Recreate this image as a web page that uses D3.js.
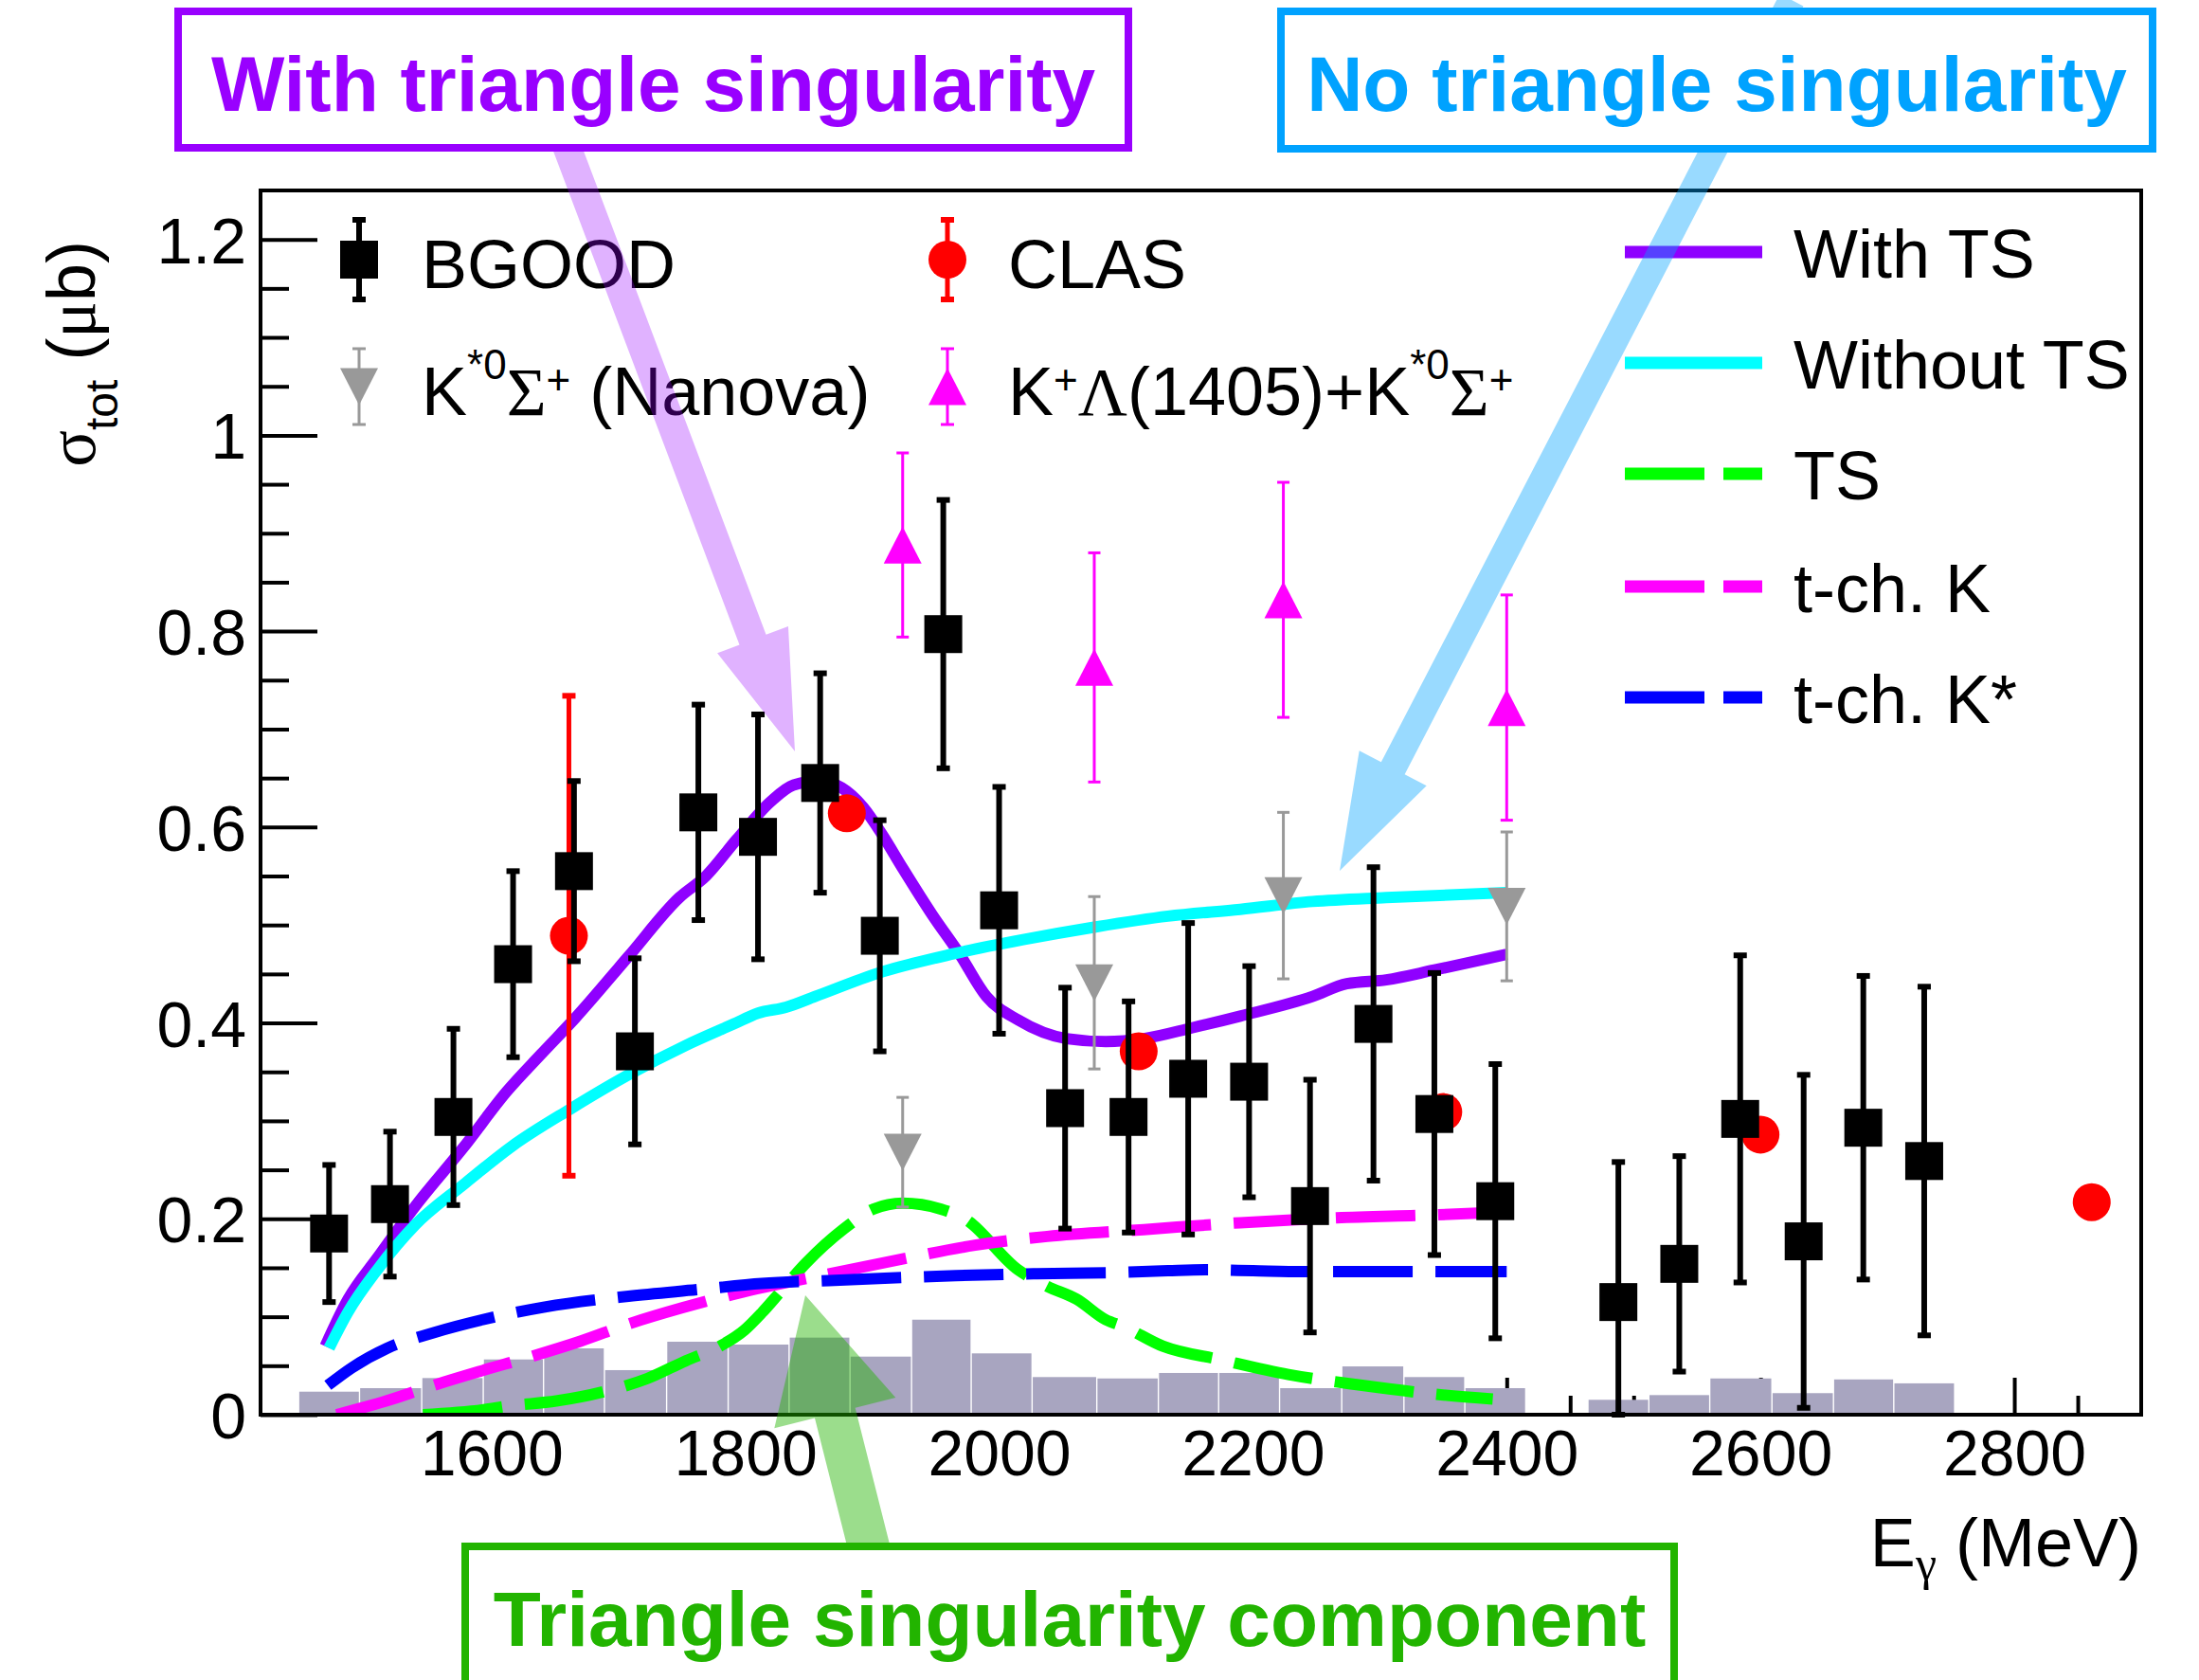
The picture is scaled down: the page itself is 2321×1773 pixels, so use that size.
<!DOCTYPE html>
<meta charset="utf-8">
<style>
body { margin: 0; background: #fff; }
svg { display: block; font-family: "Liberation Sans", Arial, Helvetica, sans-serif; }
.greek { font-family: "Liberation Serif", "DejaVu Serif", serif; }
</style>
<body>
<script src="https://cdn.jsdelivr.net/npm/d3@7"></script>
<script>

// BGOOD points: photon energy (MeV), cross section (ub), stat error, systematic (grey bars)
var bgoodE   = [1472, 1520, 1570, 1617, 1665, 1713, 1763, 1810, 1859, 1906, 1956, 2000, 2052, 2102, 2149, 2197, 2245, 2295, 2343, 2391,
                2488, 2536, 2584, 2634, 2681, 2729];
var bgoodV   = [0.185, 0.215, 0.304, 0.460, 0.555, 0.371, 0.615, 0.590, 0.645, 0.489, 0.797, 0.515, 0.313, 0.304, 0.343, 0.340, 0.213, 0.399, 0.307, 0.218,
                0.115, 0.154, 0.302, 0.177, 0.293, 0.259];
var bgoodErr = [0.070, 0.074, 0.090, 0.095, 0.092, 0.095, 0.110, 0.125, 0.112, 0.118, 0.137, 0.126, 0.123, 0.118, 0.159, 0.118, 0.129, 0.160, 0.144, 0.140,
                0.143, 0.110, 0.167, 0.170, 0.155, 0.178];
var bgoodSys = [0.0235, 0.0271, 0.0374, 0.0564, 0.0677, 0.0455, 0.0745, 0.0716, 0.0787, 0.0593, 0.097, 0.0626, 0.0384, 0.037, 0.0426, 0.0426, 0.0271, 0.0493, 0.0384, 0.0271,
                0.0152, 0.020, 0.037, 0.022, 0.036, 0.032];

// CLAS
var clasE   = [1661, 1880, 2110, 2350, 2600, 2861];
var clasV   = [0.489, 0.614, 0.371, 0.309, 0.286, 0.217];
var clasErr = [0.245, 0, 0, 0, 0, 0];

// K*0 Sigma+ (Nanova)
var nanovaE   = [1924, 2075, 2224, 2400];
var nanovaV   = [0.268, 0.441, 0.530, 0.519];
var nanovaErr = [0.056, 0.088, 0.085, 0.076];

// K+ Lambda(1405) + K*0 Sigma+
var sumE   = [1924, 2075, 2224, 2400];
var sumV   = [0.888, 0.763, 0.832, 0.722];
var sumErr = [0.094, 0.117, 0.120, 0.115];

// model curves [E, sigma]
var withTS = [[1469,0.070],[1487,0.118],[1510,0.160],[1540,0.213],[1578,0.273],[1612,0.330],[1639,0.368],[1666,0.405],[1708,0.468],
  [1748,0.528],[1769,0.550],[1793,0.587],[1820,0.626],[1838,0.643],[1858,0.647],[1876,0.640],[1893,0.620],[1908,0.592],[1924,0.558],
  [1947,0.511],[1969,0.470],[1990,0.427],[2015,0.403],[2053,0.384],[2084,0.381],[2114,0.384],[2152,0.395],[2190,0.407],[2247,0.427],
  [2274,0.440],[2305,0.444],[2343,0.454],[2400,0.470]];
var withoutTS = [[1472,0.068],[1487,0.105],[1510,0.148],[1540,0.194],[1578,0.235],[1616,0.274],[1662,0.312],[1708,0.347],[1753,0.377],
  [1791,0.399],[1810,0.410],[1832,0.416],[1855,0.427],[1905,0.451],[1962,0.470],[2019,0.485],[2076,0.498],[2133,0.509],[2190,0.516],
  [2247,0.524],[2305,0.528],[2400,0.533]];
var tsOnly = [[1546,0.000],[1593,0.005],[1614,0.009],[1651,0.014],[1690,0.024],[1723,0.037],[1753,0.055],[1780,0.070],[1799,0.086],
  [1813,0.104],[1828,0.126],[1848,0.155],[1878,0.190],[1901,0.210],[1924,0.216],[1954,0.210],[1973,0.200],[2015,0.148],[2038,0.131],
  [2061,0.118],[2084,0.097],[2098,0.090],[2129,0.070],[2175,0.056],[2228,0.041],[2286,0.030],[2343,0.021],[2389,0.016]];
var tchK = [[1478,0.000],[1517,0.014],[1552,0.029],[1590,0.044],[1633,0.060],[1670,0.075],[1709,0.093],[1750,0.109],[1794,0.124],
  [1867,0.144],[1924,0.159],[1981,0.173],[2038,0.182],[2114,0.189],[2190,0.196],[2266,0.201],[2343,0.204],[2400,0.207]];
var tchKs = [[1471,0.030],[1490,0.048],[1518,0.068],[1555,0.084],[1593,0.097],[1642,0.110],[1708,0.121],[1765,0.128],[1813,0.134],
  [1866,0.137],[1924,0.140],[1966,0.142],[2030,0.144],[2090,0.145],[2133,0.147],[2165,0.148],[2200,0.147],[2240,0.146],[2400,0.146]];

var xTicks = [1600, 1800, 2000, 2200, 2400, 2600, 2800];
var yTicks = [0, 0.2, 0.4, 0.6, 0.8, 1, 1.2];
var yTickLabels = ["0", "0.2", "0.4", "0.6", "0.8", "1", "1.2"];

var curves = [
  {name: "With TS",    data: withTS,    color: "#8f00ff", dash: null},
  {name: "Without TS", data: withoutTS, color: "#00ffff", dash: null},
  {name: "TS",         data: tsOnly,    color: "#00ff00", dash: "84,24"},
  {name: "t-ch. K",    data: tchK,      color: "#ff00ff", dash: "84,24"},
  {name: "t-ch. K*",   data: tchKs,     color: "#0000ff", dash: "84,24"}
];

var W = 2321, H = 1773;
var x = d3.scaleLinear().domain([1418, 2900]).range([275, 2260]);
var y = d3.scaleLinear().domain([0, 1.25]).range([1493, 201]);

var svg = d3.select("body").append("svg").attr("width", W).attr("height", H);
svg.append("rect").attr("width", W).attr("height", H).attr("fill", "#fff");

svg.append("clipPath").attr("id", "frame").append("rect")
    .attr("x", 275).attr("y", 201).attr("width", 1985).attr("height", 1292);

// ---- axes ticks (drawn under the grey histogram) ----
var yMinor = d3.range(0, 1.21, 0.05).filter(function(d) { return Math.abs(d * 5 - Math.round(d * 5)) > 1e-6; });
var xMinor = d3.range(1450, 2900, 50).filter(function(d) { return d % 200 != 0; });

function styleAxis(g) {
  g.select(".domain").remove();
  g.selectAll("line").attr("stroke", "#000").attr("stroke-width", 4);
  g.attr("font-family", null).attr("font-size", null);
  g.selectAll("text").attr("font-size", 68).attr("fill", "#000");
}

svg.append("g").attr("transform", "translate(275,0)")
    .call(d3.axisLeft(y).tickValues(yTicks).tickSize(-60).tickPadding(15)
      .tickFormat(function(d, i) { return yTickLabels[i]; }))
    .call(styleAxis)
    .selectAll("text").attr("dy", "0.36em");
svg.append("g").attr("transform", "translate(275,0)")
    .call(d3.axisLeft(y).tickValues(yMinor).tickSize(-30).tickFormat(""))
    .call(styleAxis);

svg.append("g").attr("transform", "translate(0,1493)")
    .call(d3.axisBottom(x).tickValues(xTicks).tickSize(-39).tickPadding(16).tickFormat(d3.format("d")))
    .call(styleAxis);
svg.append("g").attr("transform", "translate(0,1493)")
    .call(d3.axisBottom(x).tickValues(xMinor).tickSize(-20).tickFormat(""))
    .call(styleAxis);

// ---- data ----
var bgood = bgoodE.map(function(e, i) { return {e: e, v: bgoodV[i], err: bgoodErr[i], sys: bgoodSys[i]}; });
var clas = clasE.map(function(e, i) { return {e: e, v: clasV[i], err: clasErr[i]}; });
var nanova = nanovaE.map(function(e, i) { return {e: e, v: nanovaV[i], err: nanovaErr[i]}; });
var ksum = sumE.map(function(e, i) { return {e: e, v: sumV[i], err: sumErr[i]}; });

// systematic histogram: bin edges halfway between neighbouring points
bgood.forEach(function(d, i) {
  var prev = bgood[i - 1], next = bgood[i + 1];
  d.lo = (prev && d.e - prev.e < 70) ? (prev.e + d.e) / 2 : d.e - 24;
  d.hi = (next && next.e - d.e < 70) ? (next.e + d.e) / 2 : d.e + 24;
});
svg.append("g").selectAll("rect").data(bgood).join("rect")
    .attr("x", function(d) { return x(d.lo) + 0.7; })
    .attr("width", function(d) { return x(d.hi) - x(d.lo) - 1.4; })
    .attr("y", function(d) { return y(d.sys); })
    .attr("height", function(d) { return y(0) - y(d.sys); })
    .attr("fill", "#a8a5c0");

var plot = svg.append("g").attr("clip-path", "url(#frame)");

var line = d3.line().x(function(d) { return x(d[0]); }).y(function(d) { return y(d[1]); })
    .curve(d3.curveMonotoneX);
plot.selectAll("path.curve").data(curves).join("path")
    .attr("class", "curve")
    .attr("d", function(d) { return line(d.data); })
    .attr("fill", "none")
    .attr("stroke", function(d) { return d.color; })
    .attr("stroke-width", 12)
    .attr("stroke-linejoin", "round")
    .attr("stroke-dasharray", function(d) { return d.dash; });

function errorBars(g, data, color, lw, capLen, capW) {
  var yl = function(d) { return y(Math.max(0, d.v - d.err)); };
  var yh = function(d) { return y(Math.min(1.25, d.v + d.err)); };
  var shown = data.filter(function(d) { return d.err > 0; });
  g.selectAll(null).data(shown).join("line")
      .attr("x1", function(d) { return x(d.e); }).attr("x2", function(d) { return x(d.e); })
      .attr("y1", yl).attr("y2", yh)
      .attr("stroke", color).attr("stroke-width", lw);
  [yl, yh].forEach(function(f) {
    g.selectAll(null).data(shown).join("line")
        .attr("x1", function(d) { return x(d.e) - capLen / 2; })
        .attr("x2", function(d) { return x(d.e) + capLen / 2; })
        .attr("y1", f).attr("y2", f)
        .attr("stroke", color).attr("stroke-width", capW);
  });
}

function triPath(cx, cy, down) {
  var s = down ? 1 : -1;
  return "M" + (cx - 20) + "," + (cy - s * 19.5) + "L" + (cx + 20) + "," + (cy - s * 19.5) +
         "L" + cx + "," + (cy + s * 19.5) + "Z";
}

var pts = svg.append("g");
errorBars(pts, nanova, "#999999", 3, 13, 3);
pts.selectAll(null).data(nanova).join("path")
    .attr("d", function(d) { return triPath(x(d.e), y(d.v), true); }).attr("fill", "#999999");
errorBars(pts, ksum, "#ff00ff", 3, 13, 3);
pts.selectAll(null).data(ksum).join("path")
    .attr("d", function(d) { return triPath(x(d.e), y(d.v), false); }).attr("fill", "#ff00ff");
errorBars(pts, clas, "#ff0000", 5, 14, 6);
pts.selectAll(null).data(clas).join("circle")
    .attr("cx", function(d) { return x(d.e); }).attr("cy", function(d) { return y(d.v); })
    .attr("r", 20).attr("fill", "#ff0000");
errorBars(pts, bgood, "#000", 6, 14, 6);
pts.selectAll(null).data(bgood).join("rect")
    .attr("x", function(d) { return x(d.e) - 20; }).attr("y", function(d) { return y(d.v) - 20; })
    .attr("width", 40).attr("height", 40).attr("fill", "#000");

// frame
svg.append("rect").attr("x", 275).attr("y", 201).attr("width", 1985).attr("height", 1292)
    .attr("fill", "none").attr("stroke", "#000").attr("stroke-width", 4);

// ---- rich text helper (super/subscripts) ----
function rich(g, tx, ty, parts, size, anchor, transform) {
  var t = g.append("text").attr("x", tx).attr("y", ty).attr("font-size", size).attr("fill", "#000");
  if (anchor) t.attr("text-anchor", anchor);
  if (transform) t.attr("transform", transform);
  var shift = 0;
  parts.forEach(function(p) {
    var s = t.append("tspan").text(p.t);
    var target = p.dy || 0;
    if (target != shift) s.attr("dy", target - shift);
    shift = target;
    if (p.size) s.attr("font-size", p.size);
    if (p.greek) s.attr("class", "greek");
  });
  return t;
}

// ---- legends ----
var leg = svg.append("g");
function legendBar(cx, cy, half, color, lw, capW) {
  leg.append("line").attr("x1", cx).attr("x2", cx).attr("y1", cy - half).attr("y2", cy + half)
      .attr("stroke", color).attr("stroke-width", lw);
  [cy - half, cy + half].forEach(function(yy) {
    leg.append("line").attr("x1", cx - 7).attr("x2", cx + 7).attr("y1", yy).attr("y2", yy)
        .attr("stroke", color).attr("stroke-width", capW);
  });
}
legendBar(379, 274, 42, "#000", 6, 6);
leg.append("rect").attr("x", 359).attr("y", 254).attr("width", 40).attr("height", 40).attr("fill", "#000");
legendBar(1000, 274, 42, "#ff0000", 5, 6);
leg.append("circle").attr("cx", 1000).attr("cy", 274).attr("r", 20).attr("fill", "#ff0000");
legendBar(379, 408, 40, "#999999", 3, 3);
leg.append("path").attr("d", triPath(379, 408, true)).attr("fill", "#999999");
legendBar(1000, 408, 40, "#ff00ff", 3, 3);
leg.append("path").attr("d", triPath(1000, 408, false)).attr("fill", "#ff00ff");

rich(leg, 445, 304, [{t: "BGOOD"}], 72);
rich(leg, 1064, 304, [{t: "CLAS"}], 72);
rich(leg, 445, 438, [{t: "K"}, {t: "*0", dy: -38, size: 44}, {t: "Σ", greek: true},
  {t: "+", dy: -22, size: 44}, {t: " (Nanova)"}], 72);
rich(leg, 1064, 438, [{t: "K"}, {t: "+", dy: -22, size: 44}, {t: "Λ", greek: true}, {t: "(1405)+K"},
  {t: "*0", dy: -38, size: 44}, {t: "Σ", greek: true}, {t: "+", dy: -22, size: 44}], 72);

var legY = [266, 383, 500, 619, 736];
curves.forEach(function(c, i) {
  leg.append("line").attr("x1", 1715).attr("x2", 1860).attr("y1", legY[i]).attr("y2", legY[i])
      .attr("stroke", c.color).attr("stroke-width", 13).attr("stroke-dasharray", c.dash ? "84,20" : null);
  rich(leg, 1893, legY[i] + 27, [{t: c.name}], 72);
});

// ---- axis titles ----
rich(svg, 2260, 1653, [{t: "E"}, {t: "γ", greek: true, dy: 14, size: 50}, {t: " (MeV)"}], 72, "end");
rich(svg, 0, 0, [{t: "σ", greek: true}, {t: "tot", dy: 24, size: 48}, {t: " ("}, {t: "μ", greek: true}, {t: "b)"}],
  72, "end", "translate(100,254) rotate(-90)");

// ---- annotation arrows and boxes ----
function arrow(sx, sy, tx, ty, shaftW, headW, headL) {
  var dx = tx - sx, dy = ty - sy, len = Math.hypot(dx, dy);
  var ux = dx / len, uy = dy / len, px = -uy, py = ux;
  var bx = tx - ux * headL, by = ty - uy * headL;
  return [
    [sx + px * shaftW / 2, sy + py * shaftW / 2],
    [bx + px * shaftW / 2, by + py * shaftW / 2],
    [bx + px * headW / 2, by + py * headW / 2],
    [tx, ty],
    [bx - px * headW / 2, by - py * headW / 2],
    [bx - px * shaftW / 2, by - py * shaftW / 2],
    [sx - px * shaftW / 2, sy - py * shaftW / 2]
  ];
}
var notes = [
  {text: "With triangle singularity", color: "#9900ff", op: 0.3,
   box: [188, 12, 1003, 144], base: 117, arr: [564, 64, 839, 793, 30, 80, 126]},
  {text: "No triangle singularity", color: "#00a2ff", op: 0.4,
   box: [1352, 12, 920, 145], base: 117, arr: [1891, 0, 1414, 919, 28, 80, 122]},
  {text: "Triangle singularity component", color: "#22b400", op: 0.45,
   box: [491, 1632, 1276, 200], base: 1737, arr: [931, 1688, 850, 1367, 44, 132, 128]}
];
var ann = svg.append("g");
notes.forEach(function(n) {
  ann.append("polygon").attr("points", arrow.apply(null, n.arr).join(" "))
      .attr("fill", n.color).attr("fill-opacity", n.op);
});
notes.forEach(function(n) {
  ann.append("rect").attr("x", n.box[0]).attr("y", n.box[1]).attr("width", n.box[2]).attr("height", n.box[3])
      .attr("fill", "#fff").attr("stroke", n.color).attr("stroke-width", 8);
  ann.append("text").attr("x", n.box[0] + n.box[2] / 2).attr("y", n.base)
      .attr("text-anchor", "middle").attr("font-size", 82).attr("font-weight", "bold")
      .attr("fill", n.color).text(n.text);
});

</script>
